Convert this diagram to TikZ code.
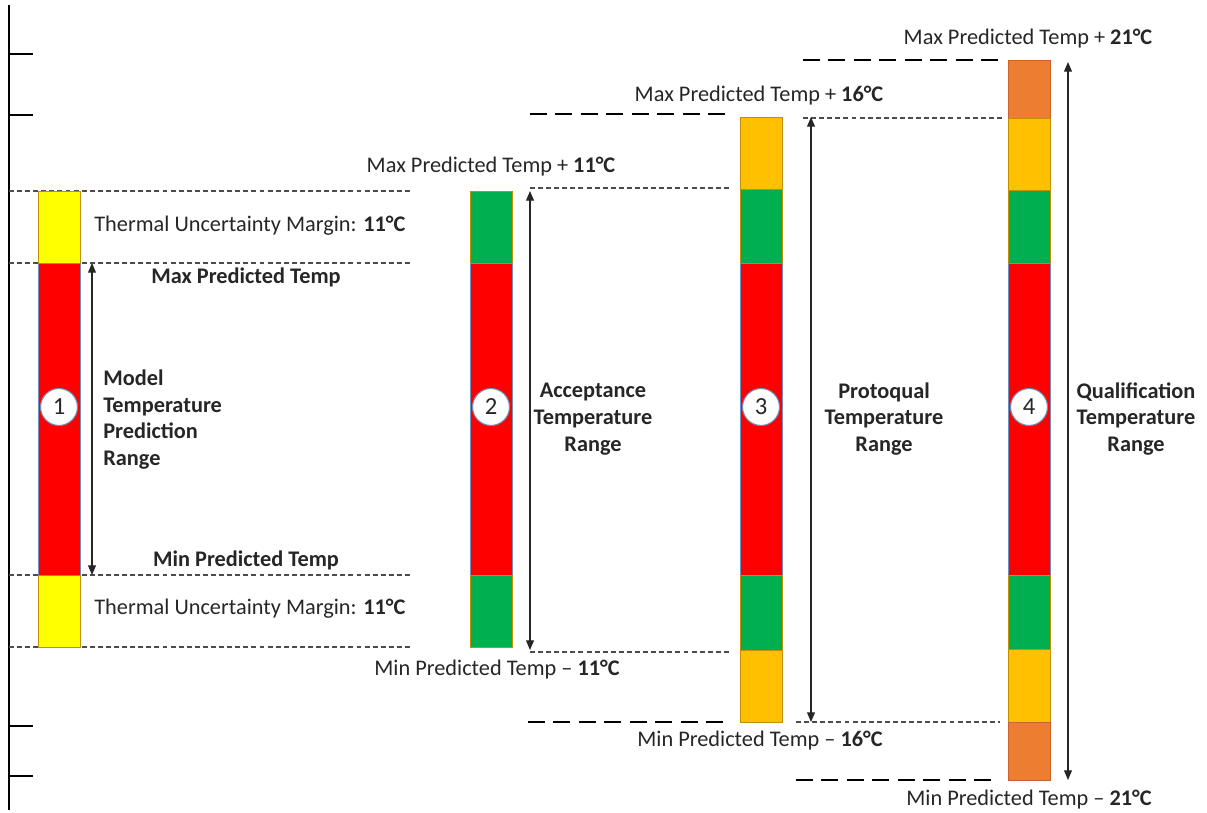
\documentclass[tikz,border=0pt]{standalone}
\usepackage{fontspec}
\setmainfont{Carlito}
\usetikzlibrary{arrows.meta}

\definecolor{barYellow}{HTML}{FFFF00}
\definecolor{barRed}{HTML}{FF0000}
\definecolor{barGreen}{HTML}{00B050}
\definecolor{barGold}{HTML}{FFC000}
\definecolor{barOrange}{HTML}{ED7D31}
\definecolor{edgeGold}{HTML}{C09000}
\definecolor{edgeBlue}{HTML}{6F8FBF}
\definecolor{edgeOrange}{HTML}{C8642A}
\definecolor{txtGray}{HTML}{262626}

\tikzset{
  thin dash/.style={draw=black!70, line width=0.6pt, dash pattern=on 2.8pt off 1.8pt},
  thick dash/.style={draw=black, line width=1.6pt, dash pattern=on 9.5pt off 5pt},
  range arrow/.style={{Triangle[width=4.5pt,length=5.5pt]}-{Triangle[width=4.5pt,length=5.5pt]}, line width=0.6pt, black!85},
  seg yellow/.style={fill=barYellow, draw=edgeGold, line width=0.5pt},
  seg red/.style={fill=barRed, draw=edgeBlue, line width=0.5pt},
  seg green/.style={fill=barGreen, draw=edgeGold, line width=0.5pt},
  seg gold/.style={fill=barGold, draw=edgeGold, line width=0.5pt},
  seg orange/.style={fill=barOrange, draw=edgeOrange, line width=0.5pt},
  number/.style={circle, draw=edgeBlue, fill=white, line width=0.6pt, minimum size=21pt, inner sep=0pt, text=txtGray, font=\fontsize{14}{14}\selectfont},
  lbl/.style={inner sep=0pt, text=txtGray, font=\fontsize{12.7}{15.3}\selectfont},
  bold lbl/.style={lbl, align=center, font=\fontsize{12.7}{15.3}\selectfont\bfseries}
}

\begin{document}
\begin{tikzpicture}[x=0.02cm, y=-0.02cm]
        \useasboundingbox (0,0) rectangle (1207,812);

        % Step 1: axis and ticks
        \draw[line width=1.7pt] (9,5) -- (9,810);
        \draw[line width=0.6pt] (9,54) -- (33,54);
        \draw[line width=0.6pt] (9,115) -- (33,115);
        \draw[line width=0.6pt] (9,726) -- (33,726);
        \draw[line width=0.6pt] (9,776) -- (33,776);

        % Step 2: guide lines
        \draw[thin dash] (9,191) -- (413,191);
        \draw[thin dash] (9,263) -- (413,263);
        \draw[thin dash] (9,575) -- (413,575);
        \draw[thin dash] (9,647) -- (413,647);
        \draw[thin dash] (530,188) -- (732,188);
        \draw[thin dash] (530,652) -- (732,652);
        \draw[thick dash] (530,114) -- (732,114);
        \draw[thick dash] (528,722) -- (730,722);
        \draw[thin dash] (803,118) -- (1005,118);
        \draw[thin dash] (796,722) -- (1000,722);
        \draw[thick dash] (803,60) -- (1005,60);
        \draw[thick dash] (796,780) -- (998,780);

        % Step 3: bar 1 (model)
        \filldraw[seg yellow] (38,191) rectangle (80,263);
        \filldraw[seg red] (38,263) rectangle (80,575);
        \filldraw[seg yellow] (38,575) rectangle (80,647);

        % Step 4: bar 2 (acceptance)
        \filldraw[seg green] (470,191) rectangle (512,263);
        \filldraw[seg red] (470,263) rectangle (512,575);
        \filldraw[seg green] (470,575) rectangle (512,647);

        % Step 5: bar 3 (protoqual)
        \filldraw[seg gold] (740,117) rectangle (782,189);
        \filldraw[seg green] (740,189) rectangle (782,263);
        \filldraw[seg red] (740,263) rectangle (782,575);
        \filldraw[seg green] (740,575) rectangle (782,650);
        \filldraw[seg gold] (740,650) rectangle (782,722);

        % Step 6: bar 4 (qualification)
        \filldraw[seg orange] (1008,60) rectangle (1050,118);
        \filldraw[seg gold] (1008,118) rectangle (1050,190);
        \filldraw[seg green] (1008,190) rectangle (1050,263);
        \filldraw[seg red] (1008,263) rectangle (1050,575);
        \filldraw[seg green] (1008,575) rectangle (1050,649);
        \filldraw[seg gold] (1008,649) rectangle (1050,722);
        \filldraw[seg orange] (1008,722) rectangle (1050,780);

        % Step 7: numbered markers
        \node[number] (n1) at (59,407) {1};
        \node[number] (n2) at (491,407) {2};
        \node[number] (n3) at (761,407) {3};
        \node[number] (n4) at (1029,407) {4};

        % Step 8: range arrows
        \coordinate (modelTop) at (92,263);
        \coordinate (modelBot) at (92,575);
        \coordinate (acceptTop) at (530,191);
        \coordinate (acceptBot) at (530,650);
        \coordinate (protoTop) at (811,117);
        \coordinate (protoBot) at (811,722);
        \coordinate (qualTop) at (1068,62);
        \coordinate (qualBot) at (1068,780);
        \draw[range arrow] (modelTop) -- (modelBot);
        \draw[range arrow] (acceptTop) -- (acceptBot);
        \draw[range arrow] (protoTop) -- (protoBot);
        \draw[range arrow] (qualTop) -- (qualBot);

        % Step 9: labels
        \node[lbl, anchor=west] (marginTop) at (94,226) {Thermal Uncertainty Margin: \textbf{11°C}};
        \node[bold lbl] (maxPred) at (246,277) {Max Predicted Temp};
        \node[bold lbl, align=left, anchor=west] (modelLbl) at (103,419.5) {Model\\Temperature\\Prediction\\Range};
        \node[bold lbl] (minPred) at (246,560) {Min Predicted Temp};
        \node[lbl, anchor=west] (marginBot) at (94,609) {Thermal Uncertainty Margin: \textbf{11°C}};

        \node[lbl] (plus11) at (491,167) {Max Predicted Temp + \textbf{11°C}};
        \node[lbl] (minus11) at (497,670) {Min Predicted Temp – \textbf{11°C}};
        \node[bold lbl] (acceptLbl) at (593,419) {Acceptance\\Temperature\\Range};

        \node[lbl] (plus16) at (759,96) {Max Predicted Temp + \textbf{16°C}};
        \node[lbl] (minus16) at (760,741) {Min Predicted Temp – \textbf{16°C}};
        \node[bold lbl] (protoLbl) at (884,419) {Protoqual\\Temperature\\Range};

        \node[lbl] (plus21) at (1028,39) {Max Predicted Temp + \textbf{21°C}};
        \node[lbl] (minus21) at (1029,800) {Min Predicted Temp – \textbf{21°C}};
        \node[bold lbl] (qualLbl) at (1136,419) {Qualification\\Temperature\\Range};
\end{tikzpicture}
\end{document}
